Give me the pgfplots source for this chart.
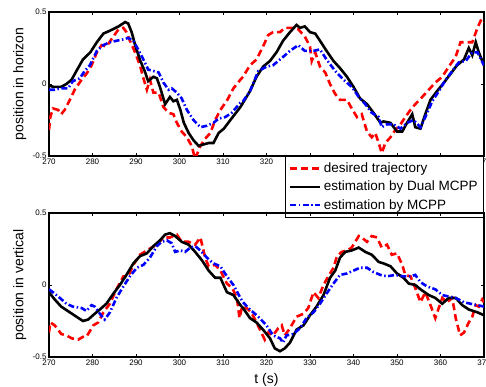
\documentclass[border=0pt]{standalone}
\usepackage{fontspec}
\setmainfont{Liberation Sans}
\usepackage{pgfplots}
\pgfplotsset{compat=1.18}
\pgfplotsset{
  mystyle/.style={
    scale only axis, width=435pt, height=144pt,
    xmin=270, xmax=370, ymin=-0.5, ymax=0.5,
    xtick={270,280,...,370}, ytick={-0.5,0,0.5},
    yticklabels={-0.5,0,0.5},
    tick align=inside, major tick length=3pt,
    every tick/.style={black, line width=0.6pt},
    axis line style={line width=1.2pt},
    tick label style={font=\fontsize{8}{9.6}\selectfont},
    /pgf/number format/assume math mode=true,
    xticklabel style={yshift=1pt},
    yticklabel style={xshift=1pt},
    every axis y label/.style={at={(axis description cs:-0.067,0.5)}, rotate=90, anchor=center, font=\fontsize{14}{16}\selectfont},
    clip=true,
  },
  red line/.style={red, line width=2.6pt, dash pattern=on 7pt off 4pt},
  black line/.style={black, line width=2.6pt},
  blue line/.style={blue, line width=2.6pt, dash pattern=on 6pt off 2.5pt on 1.5pt off 2.5pt},
}
\begin{document}
\begin{tikzpicture}[x=1pt,y=1pt]
\begin{axis}[mystyle, at={(49pt,231pt)}, anchor=south west,
  ylabel={position in horizon},
  legend style={at={(1,0)}, anchor=north east, draw=black, line width=0.8pt, fill=white,
    font=\fontsize{13.5}{15}\selectfont, inner xsep=4pt, inner ysep=4.5pt, row sep=3pt},
  legend cell align=left,
  legend image code/.code={\draw[#1] (0pt,0pt) -- (30pt,0pt);},
]
\addplot[red line] coordinates {(270,-0.32)(270.3,-0.23)(270.9,-0.17)(272.1,-0.18)(272.8,-0.21)(273.6,-0.18)(274.8,-0.11)(275.9,-0.04)(277.5,0.03)(278.6,0.07)(279.8,0.13)(281,0.22)(282.1,0.27)(283.2,0.26)(284.8,0.33)(286,0.38)(287.1,0.39)(287.8,0.36)(288.6,0.30)(289.8,0.22)(291,0.12)(291.7,0.04)(292.5,-0.04)(293.2,0.03)(294,-0.06)(295.2,-0.06)(296.3,-0.16)(297.5,-0.20)(298.6,-0.21)(299.4,-0.27)(300.5,-0.33)(301.7,-0.37)(302.8,-0.43)(303.6,-0.52)(304.8,-0.43)(305.9,-0.38)(307.1,-0.34)(308.2,-0.25)(309.4,-0.18)(311,-0.11)(312.4,-0.03)(314,0.03)(314.6,0.05)(316.2,0.13)(317.7,0.17)(319.2,0.26)(320.4,0.34)(321.5,0.36)(323.1,0.36)(324.2,0.39)(325.8,0.39)(327.3,0.38)(328.8,0.33)(330,0.26)(330.4,0.16)(331.2,0.22)(332.3,0.12)(333.5,0.08)(334.6,0)(335.8,-0.07)(336.9,-0.11)(338.5,-0.11)(339.6,-0.17)(340.8,-0.23)(341.9,-0.21)(343.1,-0.33)(344.2,-0.37)(345,-0.34)(345.8,-0.41)(346.5,-0.48)(347.3,-0.41)(348.5,-0.37)(349.6,-0.32)(350.8,-0.28)(351.9,-0.23)(353.1,-0.18)(354.2,-0.14)(355.8,-0.09)(357.3,-0.04)(358.8,0.01)(360.4,0.05)(361.9,0.12)(363.5,0.19)(364.6,0.29)(366.2,0.29)(367.3,0.29)(368.5,0.39)(369.4,0.45)(370,0.43)};
\addlegendentry{desired trajectory}
\addplot[black line] coordinates {(270,-0.01)(271,-0.02)(272.8,-0.02)(274,0)(275.2,0.03)(276.3,0.09)(277.8,0.17)(279.5,0.22)(281,0.29)(282.5,0.35)(284,0.37)(286,0.40)(287.5,0.43)(288.2,0.42)(289,0.36)(289.8,0.27)(291,0.16)(292,0.09)(292.8,0.02)(294,0.05)(294.8,0.04)(295.5,-0.02)(296.7,-0.14)(297.8,-0.09)(298.6,-0.12)(299.4,-0.11)(300.2,-0.18)(301,-0.27)(302.1,-0.34)(303.2,-0.39)(304.4,-0.43)(305.5,-0.42)(306.7,-0.41)(307.8,-0.41)(309,-0.34)(310.2,-0.31)(311.7,-0.25)(314,-0.16)(314.6,-0.13)(316.2,-0.05)(317.7,0.05)(319.2,0.12)(320.8,0.16)(322.3,0.22)(323.8,0.30)(325.4,0.36)(326.9,0.41)(327.7,0.39)(328.8,0.40)(330,0.36)(331.2,0.35)(332.3,0.30)(333.8,0.23)(335.4,0.16)(336.9,0.11)(338.5,0.05)(340,-0.02)(341.5,-0.10)(343.1,-0.14)(344.6,-0.20)(346.2,-0.27)(346.9,-0.26)(348.5,-0.27)(350,-0.33)(351.2,-0.33)(352.3,-0.27)(353.5,-0.21)(354.2,-0.30)(355.4,-0.31)(356.5,-0.21)(357.7,-0.11)(359.2,-0.05)(360.8,0.01)(362.3,0.07)(363.8,0.13)(365.4,0.17)(366.5,0.25)(367.3,0.20)(368.1,0.29)(368.8,0.22)(370,0.13)};
\addlegendentry{estimation by Dual MCPP}
\addplot[blue line] coordinates {(270,-0.04)(271.3,-0.04)(272.8,-0.03)(274.4,-0.03)(275.5,0.02)(277.1,0.04)(278.2,0.09)(279.4,0.13)(281,0.23)(282.5,0.27)(284,0.29)(285.5,0.30)(287.1,0.31)(288.2,0.32)(289.4,0.30)(290.5,0.24)(291.7,0.17)(292.8,0.10)(294,0.09)(295.2,0.08)(296.3,0.01)(297.5,-0.04)(298.2,-0.03)(299.4,-0.06)(300.5,-0.10)(301.7,-0.18)(303.2,-0.25)(304.8,-0.30)(306.3,-0.29)(307.8,-0.27)(309,-0.24)(310.5,-0.23)(312,-0.20)(314,-0.13)(314.6,-0.12)(316.2,-0.05)(318.1,0.09)(320,0.12)(321.5,0.13)(323.5,0.18)(325.4,0.23)(327.3,0.27)(328.8,0.23)(330.8,0.23)(332.3,0.24)(333.8,0.17)(335.8,0.09)(337.7,0.03)(339.6,-0.02)(341.2,-0.09)(342.7,-0.14)(344.2,-0.20)(345.8,-0.23)(346.5,-0.30)(347.7,-0.28)(349.2,-0.28)(350.8,-0.31)(352.3,-0.27)(353.8,-0.25)(355.4,-0.30)(356.5,-0.23)(358.1,-0.12)(359.6,-0.05)(361.2,0.03)(362.7,0.09)(364.2,0.15)(365.8,0.16)(367.3,0.22)(368.5,0.22)(370,0.13)};
\addlegendentry{estimation by MCPP}
\end{axis}
\begin{axis}[mystyle, at={(49pt,30pt)}, anchor=south west,
  ylabel={position in vertical},
  xlabel={t (s)},
  every axis x label/.style={at={(axis description cs:0.5,-0.16)}, anchor=center, font=\fontsize{14}{16}\selectfont},
]
\addplot[red line] coordinates {(270,-0.33)(270.3,-0.26)(271.3,-0.28)(272.1,-0.31)(272.8,-0.34)(274,-0.35)(275.2,-0.37)(276.7,-0.38)(277.8,-0.36)(278.6,-0.36)(279.2,-0.33)(280.2,-0.28)(281.3,-0.26)(282.5,-0.19)(284,-0.13)(285.5,-0.03)(287.1,0.06)(288.2,0.06)(289.4,0.14)(290.9,0.21)(292.5,0.24)(293.6,0.26)(294.8,0.28)(296.3,0.33)(297.8,0.33)(299.4,0.35)(300.5,0.30)(302.1,0.30)(303.6,0.28)(304.8,0.33)(305.9,0.19)(306.7,0.13)(308.2,0.14)(309.4,0.10)(310.9,0.01)(312.1,-0.02)(313.2,-0.09)(313.8,-0.23)(314.4,-0.15)(315.4,-0.16)(316.5,-0.19)(317.7,-0.26)(318.8,-0.33)(319.6,-0.38)(320.4,-0.33)(321.5,-0.35)(322.7,-0.30)(323.5,-0.28)(324.2,-0.35)(325.4,-0.30)(326.9,-0.22)(328.5,-0.20)(329.6,-0.16)(330.8,-0.05)(331.9,-0.09)(333.1,0)(334.2,0.06)(335.4,0.12)(336.2,0.20)(337.3,0.23)(338.5,0.24)(339.6,0.26)(341.2,0.34)(341.9,0.33)(343.1,0.30)(344.2,0.34)(345.4,0.33)(346.5,0.26)(347.7,0.28)(348.8,0.21)(350,0.22)(351.2,0.14)(351.9,0.07)(353.1,0.06)(354.2,-0.02)(355.4,-0.12)(356.5,-0.05)(357.7,-0.14)(358.8,-0.23)(359.6,-0.16)(360.4,-0.09)(361.5,-0.12)(362.7,-0.09)(363.5,-0.23)(364.5,-0.35)(365.4,-0.33)(366.5,-0.26)(367.3,-0.22)(368.1,-0.14)(368.8,-0.15)(369.6,-0.10)(370,-0.12)};
\addplot[black line] coordinates {(270,-0.05)(271.3,-0.10)(272.8,-0.15)(274.8,-0.19)(276.3,-0.22)(277.8,-0.25)(279,-0.24)(280.5,-0.20)(281.7,-0.17)(283.2,-0.13)(284.8,-0.06)(286.3,0)(287.8,0.07)(289.4,0.15)(290.9,0.20)(292.5,0.22)(294,0.27)(295.5,0.31)(296.7,0.35)(297.8,0.36)(299,0.34)(300.5,0.30)(302.1,0.28)(303.6,0.23)(305.2,0.17)(306.7,0.10)(308.2,0.05)(309.4,0.05)(310.9,-0.05)(312.4,-0.07)(314,-0.14)(314.6,-0.16)(316.2,-0.23)(317.7,-0.26)(319.2,-0.31)(320.8,-0.37)(321.9,-0.44)(323.1,-0.46)(324.2,-0.44)(325.4,-0.40)(326.9,-0.31)(328.5,-0.28)(330,-0.21)(331.5,-0.15)(333.1,-0.07)(334.6,0.05)(335.8,0.10)(336.9,0.19)(338.1,0.23)(339.6,0.24)(341.2,0.26)(342.7,0.23)(344.2,0.21)(345.8,0.16)(346.9,0.15)(348.5,0.13)(350,0.08)(351.5,0.05)(352.7,0.01)(354.2,0)(355.4,-0.03)(357.3,-0.07)(358.8,-0.09)(360.4,-0.13)(361.9,-0.09)(363.5,-0.09)(365,-0.14)(366.5,-0.17)(368.5,-0.19)(370,-0.21)};
\addplot[blue line] coordinates {(270,-0.03)(270.9,-0.05)(272.5,-0.09)(274,-0.13)(275.5,-0.15)(277.5,-0.16)(278.6,-0.18)(279.8,-0.14)(280.5,-0.15)(281.7,-0.20)(282.8,-0.24)(284,-0.19)(285.5,-0.09)(287.1,-0.01)(288.6,0.06)(290.2,0.12)(291.7,0.14)(293.2,0.19)(294.8,0.27)(295.9,0.30)(297.1,0.31)(298.2,0.29)(299,0.23)(300.2,0.24)(301.3,0.23)(302.5,0.26)(303.6,0.27)(304.8,0.24)(306.3,0.19)(307.8,0.15)(309.4,0.13)(310.9,0.06)(312.4,0)(314,-0.09)(314.6,-0.12)(316.2,-0.17)(318.1,-0.22)(320,-0.28)(321.5,-0.35)(323.1,-0.37)(323.8,-0.40)(324.6,-0.35)(326.2,-0.34)(327.7,-0.30)(329.2,-0.23)(330.8,-0.19)(332.3,-0.13)(333.8,-0.06)(335.4,0.01)(336.9,0.07)(338.5,0.08)(340,0.10)(341.5,0.12)(343.1,0.12)(344.6,0.09)(346.2,0.07)(347.7,0.06)(349.6,0.07)(351.5,0.06)(353.1,0.06)(354.2,0.07)(355.4,0.02)(356.9,-0.01)(358.8,-0.03)(360.4,-0.07)(361.9,-0.08)(363.5,-0.09)(365.4,-0.12)(366.9,-0.13)(368.5,-0.14)(370,-0.15)};
\end{axis}
\pgfresetboundingbox
\useasboundingbox (0pt,0pt) rectangle (486pt,387pt);
\end{tikzpicture}
\end{document}
